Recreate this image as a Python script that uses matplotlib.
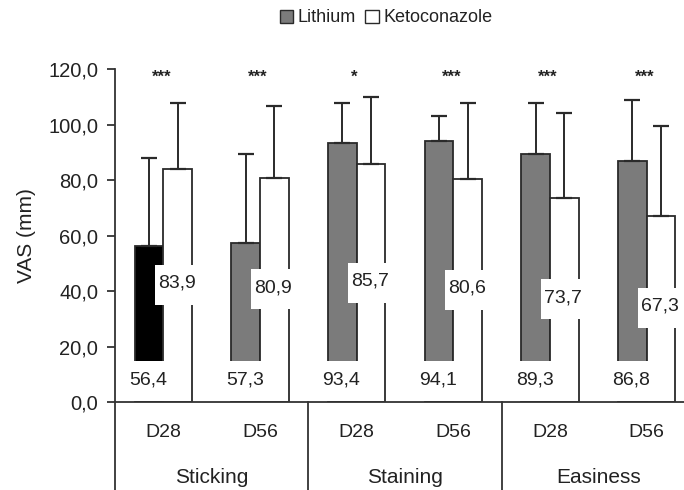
import matplotlib
matplotlib.use("Agg")
import matplotlib.pyplot as plt
from matplotlib.patches import Rectangle, Patch
import matplotlib.transforms as mtransforms
import numpy as np

# ---- data ----
timepoints = ["D28", "D56", "D28", "D56", "D28", "D56"]
criteria = ["Sticking", "Staining", "Easiness"]
lithium = [56.4, 57.3, 93.4, 94.1, 89.3, 86.8]
ketoconazole = [83.9, 80.9, 85.7, 80.6, 73.7, 67.3]
lithium_sd = [31.6, 32.3, 14.5, 9.0, 18.6, 22.0]
ketoconazole_sd = [24.0, 25.8, 24.3, 27.3, 30.6, 32.3]
significance = ["***", "***", "*", "***", "***", "***"]
yticks = [0, 20, 40, 60, 80, 100, 120]

# ---- style ----
plt.rcParams['font.family'] = ['Liberation Sans', 'DejaVu Sans']
TXT = '#222222'
EDGE = '#2a2a2a'
GRAY = '#7b7b7b'

W, H = 684, 490
fig = plt.figure(figsize=(W / 100, H / 100), dpi=100)
ax_left, ax_bottom_px, ax_top_px = 115, 402.3, 69.3
ax_w_px = 580
ax = fig.add_axes([ax_left / W, (H - ax_bottom_px) / H, ax_w_px / W,
                   (ax_bottom_px - ax_top_px) / H])
ax.set_xlim(-0.5, 5.5)
ax.set_ylim(0, 120)

px_x = ax_w_px / 6.0               # pixels per x unit
px_y = (ax_bottom_px - ax_top_px) / 120.0  # pixels per y unit

x = np.arange(len(lithium))
bw = 0.295
li_x = x - bw / 2
ke_x = x + bw / 2

li_colors = ['black'] + [GRAY] * (len(lithium) - 1)
ax.bar(li_x, lithium, width=bw, color=li_colors, edgecolor=EDGE, linewidth=1.3, zorder=2)
ax.bar(ke_x, ketoconazole, width=bw, color='white', edgecolor=EDGE, linewidth=1.3, zorder=2)

ax.errorbar(li_x, lithium, yerr=[np.zeros(len(lithium)), lithium_sd], fmt='none',
            ecolor=EDGE, elinewidth=1.4, capsize=5.5, capthick=1.6, zorder=2.5)
ax.errorbar(ke_x, ketoconazole, yerr=[np.zeros(len(ketoconazole)), ketoconazole_sd], fmt='none',
            ecolor=EDGE, elinewidth=1.4, capsize=5.5, capthick=1.6, zorder=2.5)

# value labels with white boxes
box_hw = 23 / px_x
box_hh = 20 / px_y
for xi, v in zip(li_x, lithium):
    cy = 7.5
    ax.add_patch(Rectangle((xi - box_hw, cy - box_hh), 2 * box_hw, 2 * box_hh,
                           facecolor='white', edgecolor='none', zorder=3))
    ax.text(xi - 1 / px_x, 7.9, f"{v:.1f}".replace('.', ','), ha='center', va='center',
            fontsize=14, color=TXT, zorder=4)
for xi, v in zip(ke_x, ketoconazole):
    cy = v / 2 + 0.3
    ax.add_patch(Rectangle((xi - box_hw, cy - box_hh), 2 * box_hw, 2 * box_hh,
                           facecolor='white', edgecolor='none', zorder=3))
    ax.text(xi - 1 / px_x, v / 2 + 0.9, f"{v:.1f}".replace('.', ','), ha='center', va='center',
            fontsize=14, color=TXT, zorder=4)

# significance stars
for xi, s in zip(x, significance):
    ax.text(xi - 2 / px_x, 115.6, s, ha='center', va='baseline', fontsize=12,
            fontweight='bold', color=TXT, zorder=4)

# axes styling
for s in ['top', 'right']:
    ax.spines[s].set_visible(False)
for s in ['left', 'bottom']:
    ax.spines[s].set_color('#333333')
    ax.spines[s].set_linewidth(1.3)
    ax.spines[s].set_zorder(5)
ax.set_yticks(yticks)
ax.set_yticklabels([f"{t:.1f}".replace('.', ',') for t in yticks], fontsize=14.5, color=TXT)
ax.tick_params(axis='y', direction='out', length=6, width=1.3, color='#333333', pad=6)
ax.set_xticks([])

# category table below the axis
trans = mtransforms.blended_transform_factory(ax.transData, ax.transAxes)
for xv in [-0.5, 1.5, 3.5, 5.5]:
    ax.plot([xv, xv], [0, -0.4], transform=trans, color='#333333', lw=1.3,
            clip_on=False, zorder=5)
for xi, t in zip(x, timepoints):
    ax.text(xi, -10.9, t, ha='center', va='center', fontsize=14, color=TXT, clip_on=False)
for i, c in enumerate(criteria):
    ax.text(2 * i + 0.5, -27.0, c, ha='center', va='center', fontsize=15, color=TXT,
            clip_on=False)

fig.text(26 / W, (H - 235.7) / H, "VAS (mm)", rotation=90, ha='center', va='center',
         fontsize=15, color=TXT)

handles = [Patch(facecolor=GRAY, edgecolor=EDGE, linewidth=1.0, label='Lithium'),
           Patch(facecolor='white', edgecolor=EDGE, linewidth=1.0, label='Ketoconazole')]
fig.legend(handles=handles, loc='center', bbox_to_anchor=(386 / W, (H - 18) / H), ncol=2,
           frameon=False, fontsize=13, handlelength=0.75, handleheight=0.75,
           handletextpad=0.25, columnspacing=0.5, labelcolor=TXT)

fig.savefig("out.png", dpi=100)
